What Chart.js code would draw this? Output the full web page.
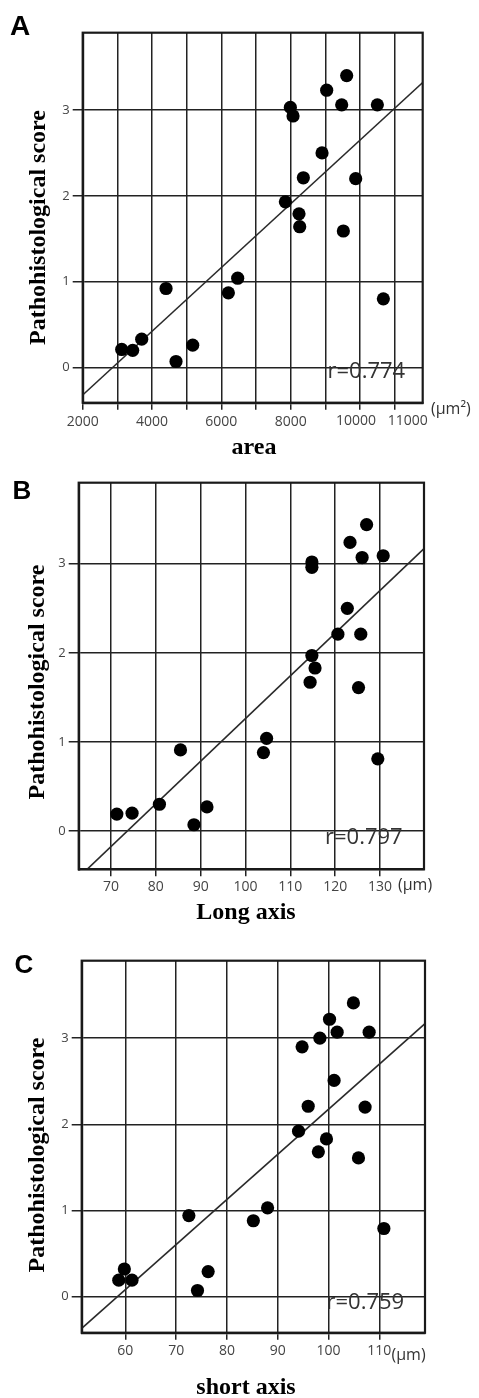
<!DOCTYPE html>
<html><head><meta charset="utf-8">
<script src="https://cdn.jsdelivr.net/npm/chart.js@4/dist/chart.umd.min.js"></script>
<style>
html,body{margin:0;padding:0;background:#fff;}
body{width:479px;height:1398px;position:relative;overflow:hidden;}
canvas{position:absolute;left:0;}
</style></head><body>
<canvas id="cA" width="479" height="460" style="top:0px;width:479px;height:460px"></canvas>
<canvas id="cB" width="479" height="465" style="top:460px;width:479px;height:465px"></canvas>
<canvas id="cC" width="479" height="473" style="top:925px;width:479px;height:473px"></canvas>
<script>
// ---- data ----
const areaValues  = [9615, 9038, 9471, 10500, 7990, 8067, 8904, 8365, 9875, 7846, 8240, 8260, 9519, 6471, 6202, 4404, 10673, 3702, 3125, 3442, 5173, 4692];
const scoreA      = [3.40, 3.23, 3.06, 3.06, 3.03, 2.93, 2.50, 2.21, 2.20, 1.93, 1.79, 1.64, 1.59, 1.04, 0.87, 0.92, 0.80, 0.33, 0.21, 0.20, 0.26, 0.07];
const longAxis    = [127.0, 123.3, 126.0, 130.7, 114.8, 114.8, 122.7, 120.6, 125.7, 114.8, 115.5, 114.4, 125.2, 104.7, 104.0, 85.5, 129.5, 80.8, 71.3, 74.7, 91.4, 88.5];
const scoreB      = [3.44, 3.24, 3.07, 3.09, 3.02, 2.96, 2.50, 2.21, 2.21, 1.97, 1.83, 1.67, 1.61, 1.04, 0.88, 0.91, 0.81, 0.30, 0.19, 0.20, 0.27, 0.07];
const shortAxis   = [104.9, 100.2, 101.7, 108.0, 98.3, 94.8, 101.1, 96.0, 107.2, 94.1, 99.6, 98.0, 105.9, 88.0, 85.2, 72.5, 110.9, 59.8, 58.7, 61.3, 76.3, 74.2];
const scoreC      = [3.41, 3.22, 3.07, 3.07, 3.00, 2.90, 2.51, 2.21, 2.20, 1.92, 1.83, 1.68, 1.61, 1.03, 0.88, 0.94, 0.79, 0.32, 0.19, 0.19, 0.29, 0.07];

// regression line end points
const fitA = [[2000, -0.32], [11808, 3.32]];
const fitB = [[62.8, -0.52], [139.8, 3.17]];
const fitC = [[51.4, -0.37], [119.0, 3.17]];

// ticks
const yTicks = [0, 1, 2, 3];
const xTicksA = [2000, 3000, 4000, 5000, 6000, 7000, 8000, 9000, 10000, 11000];
const xLabelsA = ['2000', '', '4000', '', '6000', '', '8000', '', '10000', '11000'];
const xTicksB = [70, 80, 90, 100, 110, 120, 130];
const xLabelsB = ['70', '80', '90', '100', '110', '120', '130'];
const xTicksC = [60, 70, 80, 90, 100, 110];
const xLabelsC = ['60', '70', '80', '90', '100', '110'];
// crowded labels of panel A are nudged apart as in the reference
const nudgeA = {10000: -4, 11000: 13};

// texts
const yTitle = 'Pathohistological score';
const xTitles = ['area', 'Long axis', 'short axis'];
const panelLetters = ['A', 'B', 'C'];
const rTexts = ['r=0.774', 'r=0.797', 'r=0.759'];
const unitTexts = ['(\u03bcm\u00b2)', '(\u03bcm)', '(\u03bcm)'];

// ---- drawing ----
const tickFont = '14px "Open Sans", sans-serif';
const decor = {
  id: 'decor',
  afterDraw(chart, args, opts) {
    const ctx = chart.ctx, a = chart.chartArea;
    ctx.save();
    ctx.strokeStyle = '#1a1a1a';
    ctx.lineWidth = 2.2;
    ctx.strokeRect(a.left, a.top, a.right - a.left, a.bottom - a.top);
    // nudged tick labels
    if (opts.nudge) {
      const xs = chart.scales.x;
      ctx.font = tickFont;
      ctx.fillStyle = '#444';
      ctx.textAlign = 'center';
      ctx.textBaseline = 'top';
      for (const k of Object.keys(opts.nudge)) {
        const v = Number(k);
        ctx.fillText(String(v), xs.getPixelForValue(v) + opts.nudge[k], a.bottom + 7 + opts.xPad);
      }
    }
    for (const t of opts.texts) {
      ctx.save();
      ctx.font = t.font;
      ctx.fillStyle = t.color || '#000';
      ctx.textAlign = t.align || 'left';
      ctx.textBaseline = 'alphabetic';
      ctx.translate(t.x, t.y);
      if (t.rotate) ctx.rotate(t.rotate);
      ctx.fillText(t.text, 0, 0);
      ctx.restore();
    }
    ctx.restore();
  }
};

function makeChart(id, H, g, xs, ys, fit, xTicks, xLabels, xr, yr, xPad, texts, nudge) {
  const pts = xs.map((x, i) => ({x: x, y: ys[i]}));
  const lbl = {};
  xTicks.forEach((v, i) => lbl[v] = xLabels[i]);
  return new Chart(document.getElementById(id), {
    type: 'scatter',
    data: {
      datasets: [
        {data: pts, backgroundColor: '#000', borderColor: '#000', pointRadius: 6.6, pointBorderWidth: 0, pointHoverRadius: 6.6},
        {type: 'line', data: fit.map(p => ({x: p[0], y: p[1]})), borderColor: '#2a2a2a', borderWidth: 1.6, pointRadius: 0, fill: false, showLine: true}
      ]
    },
    options: {
      responsive: false,
      animation: false,
      events: [],
      layout: {padding: {top: g.top, right: 479 - g.right, left: 0, bottom: 0}},
      plugins: {legend: {display: false}, tooltip: {enabled: false}, decor: {texts: texts, nudge: nudge, xPad: xPad}},
      scales: {
        x: {
          type: 'linear', min: xr[0], max: xr[1],
          afterBuildTicks: s => { s.ticks = xTicks.map(v => ({value: v})); },
          afterFit: s => { s.height = H - g.bottom; },
          ticks: {autoSkip: false, maxRotation: 0, minRotation: 0, padding: xPad,
                  font: {family: 'Open Sans', size: 14}, color: '#444',
                  callback: v => (nudge && nudge[v] !== undefined) ? '' : (lbl[v] !== undefined ? lbl[v] : '')},
          grid: {color: '#222', lineWidth: 1.5, tickLength: 7, drawTicks: true, tickColor: '#222'},
          border: {display: true, color: '#1a1a1a', width: 2.2}
        },
        y: {
          type: 'linear', min: yr[0], max: yr[1],
          afterBuildTicks: s => { s.ticks = yTicks.map(v => ({value: v})); },
          afterFit: s => { s.width = g.left; },
          ticks: {padding: 3, font: {family: 'Open Sans', size: 13}, color: '#444',
                  callback: v => String(v)},
          grid: {color: '#222', lineWidth: 1.5, tickLength: 10, drawTicks: true, tickColor: '#222'},
          border: {display: true, color: '#1a1a1a', width: 2.2}
        }
      }
    },
    plugins: [decor]
  });
}

const letterFont = 'bold 26px "Liberation Sans", Arial, sans-serif';
const titleFont = 'bold 24px "Liberation Serif", "Times New Roman", serif';
const rFont = '22px "Open Sans", sans-serif';
const unitFont = '16px "Open Sans", sans-serif';

makeChart('cA', 460, {left: 82.7, right: 422.7, top: 32.7, bottom: 402.7},
  areaValues, scoreA, fitA, xTicksA, xLabelsA, [2000, 11808], [-0.41, 3.9], 4, [
    {text: panelLetters[0], x: 10, y: 35, font: 'bold 28px "Liberation Sans", Arial, sans-serif'},
    {text: yTitle, x: 45, y: 227.5, font: titleFont, align: 'center', rotate: -Math.PI / 2},
    {text: xTitles[0], x: 254, y: 454, font: titleFont, align: 'center'},
    {text: rTexts[0], x: 327.5, y: 378.3, font: rFont, color: '#333'},
    {text: unitTexts[0], x: 431, y: 413.5, font: unitFont, color: '#333'}
  ], nudgeA);

makeChart('cB', 465, {left: 78.7, right: 424, top: 22.7, bottom: 409.3},
  longAxis, scoreB, fitB, xTicksB, xLabelsB, [62.8, 139.8], [-0.43, 3.91], 2, [
    {text: panelLetters[1], x: 12.5, y: 39, font: letterFont},
    {text: yTitle, x: 44, y: 222, font: titleFont, align: 'center', rotate: -Math.PI / 2},
    {text: xTitles[1], x: 246, y: 459, font: titleFont, align: 'center'},
    {text: rTexts[1], x: 325, y: 384, font: rFont, color: '#333'},
    {text: unitTexts[1], x: 398, y: 430, font: unitFont, color: '#333'}
  ], null);

makeChart('cC', 473, {left: 81.7, right: 425, top: 35.7, bottom: 407.7},
  shortAxis, scoreC, fitC, xTicksC, xLabelsC, [51.4, 119.0], [-0.42, 3.9], 3, [
    {text: panelLetters[2], x: 14.5, y: 47.7, font: letterFont},
    {text: yTitle, x: 44, y: 230, font: titleFont, align: 'center', rotate: -Math.PI / 2},
    {text: xTitles[2], x: 246, y: 469, font: titleFont, align: 'center'},
    {text: rTexts[2], x: 326.5, y: 384.3, font: rFont, color: '#333'},
    {text: unitTexts[2], x: 391.5, y: 434.5, font: unitFont, color: '#333'}
  ], null);
</script>
</body></html>
